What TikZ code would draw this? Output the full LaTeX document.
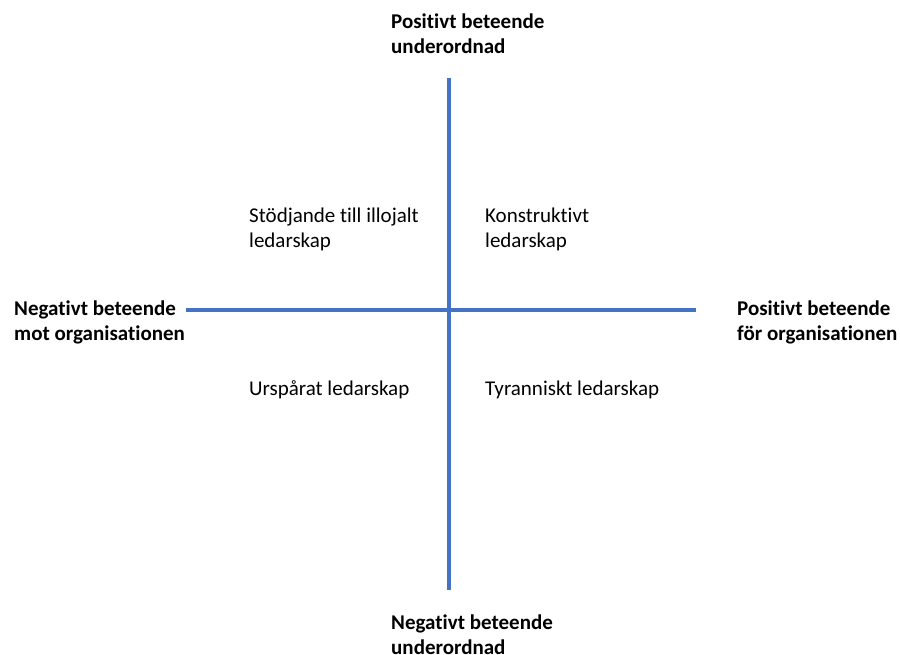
\documentclass[tikz,border=0pt]{standalone}
\usepackage{fontspec}
\setmainfont[Ligatures=NoCommon]{Carlito}
\definecolor{axisblue}{HTML}{4472C4}
\begin{document}
\begin{tikzpicture}[x=1pt,y=-1pt,
  axis/.style={draw=axisblue,line width=4pt},
  bold label/.style={anchor=base west,inner sep=0pt,align=left,font=\fontsize{21}{25}\selectfont\bfseries},
  quad label/.style={anchor=base west,inner sep=0pt,align=left,font=\fontsize{21}{25}\selectfont}]
\useasboundingbox (0,0) rectangle (900,654);
\coordinate (vtop) at (449,78);
\coordinate (vbot) at (449,590);
\coordinate (hl) at (186,310);
\coordinate (hr) at (696,310);
\draw[axis] (vtop) -- (vbot);
\draw[axis] (hl) -- (hr);
\node[bold label] (top) at (391,53) {Positivt beteende\\underordnad};
\node[bold label] (bot) at (391,654) {Negativt beteende\\underordnad};
\node[bold label] (left) at (14,340) {Negativt beteende\\mot organisationen};
\node[bold label] (right) at (737,340) {Positivt beteende\\för organisationen};
\node[quad label] (q1) at (249,247) {Stödjande till illojalt\\ledarskap};
\node[quad label] (q2) at (485,247) {Konstruktivt\\ledarskap};
\node[quad label] (q3) at (249,395) {Urspårat ledarskap};
\node[quad label] (q4) at (485,395) {Tyranniskt ledarskap};
\end{tikzpicture}
\end{document}
